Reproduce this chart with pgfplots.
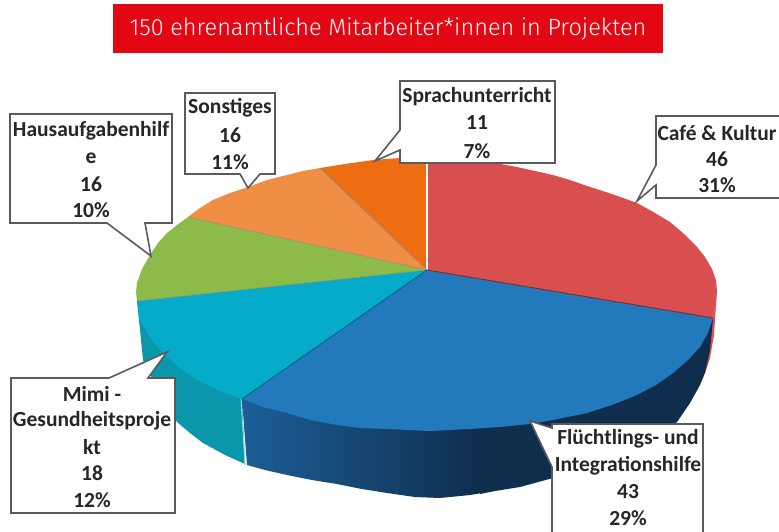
\documentclass[border=0pt]{standalone}
\usepackage{fontspec}
\usepackage{pgfplots}
\pgfplotsset{compat=1.18}
\setmainfont{Carlito}
\newfontfamily\titlefont{Fira Sans Light}
\definecolor{cRed}{HTML}{D94E4E}
\definecolor{cBlue}{HTML}{2279BC}
\definecolor{cTeal}{HTML}{05ABC8}
\definecolor{cTealS}{HTML}{0A96AB}
\definecolor{cGreen}{HTML}{8DBB4A}
\definecolor{cLO}{HTML}{F08E46}
\definecolor{cDO}{HTML}{EE6D12}
\definecolor{cTitle}{HTML}{E30613}
\definecolor{cBorder}{HTML}{5A5A5A}
\definecolor{cBS}{HTML}{1C5E96}
\definecolor{cBD}{HTML}{0F2E4D}
\newcommand{\lab}[3]{\node[font=\fontsize{21.5}{22}\selectfont\bfseries,text=black!85,anchor=center,inner sep=0pt] at (axis cs:#1,#2) {#3};}
\begin{document}
\begin{tikzpicture}
\clip (0,0) rectangle (779pt,531pt);
\begin{axis}[
  at={(0,0)}, anchor=south west,
  scale only axis, width=779pt, height=531pt,
  xmin=0, xmax=779, ymin=0, ymax=531, y dir=reverse,
  axis lines=none, clip=false]
% title band
\addplot[draw=none, fill=cTitle] coordinates {(113,4)(663,4)(663,53)(113,53)} -- cycle;
\node[font=\fontsize{23.5}{24}\titlefont, text=white, anchor=center, inner sep=0pt] at (axis cs:388,29) {150 ehrenamtliche Mitarbeiter*innen in Projekten};
% sides
\addplot[draw=none, fill=cRed] coordinates {(716,305)(714,335)(710,358)(705,373)(708,345)(713,318)} -- cycle;
\addplot[draw=none, fill=cTealS] coordinates {(137,301)(140,330)(143,360)(158,390)(177,422)(190,433)(203,443)(225,455)(245,464)(242,399)} -- cycle;
\addplot[draw=none, left color=cBS, right color=cBD] coordinates {(242,399)(247,465)(265,470)(287,475)(312,480)(337,484)(362,489)(387,493)(415,497)(440,498)(470,495)(482,493)(482,400)} -- cycle;
\addplot[draw=none, fill=cBD] coordinates {(480,400)(480,494)(495,491)(520,487)(553,478)(590,465)(620,453)(650,440)(677,422)(690,403)(700,385)(705,373)(710,350)(713,319)} -- cycle;
\addplot[color=cTeal!50!white, line width=1pt] coordinates {(241,399)(245,465)};
% top faces
\addplot[draw=none, fill=cDO] coordinates {(427,270)(320,168)(345,164)(373,160)(400,158)(427,158)} -- cycle;
\addplot[draw=none, fill=cLO] coordinates {(427,270)(188,217)(200,208)(213,200)(230,193)(248,187)(267,180)(287,175)(303,171)(320,168)} -- cycle;
\addplot[draw=none, fill=cGreen] coordinates {(427,270)(137,301)(136,292)(137,283)(142,269)(150,255)(158,243)(167,233)(177,225)(188,217)} -- cycle;
\addplot[draw=none, fill=cTeal] coordinates {(427,270)(137,301)(140,320)(150,338)(165,355)(180,368)(197,380)(218,390)(242,399)} -- cycle;
\addplot[draw=none, fill=cRed] coordinates {(427,270)(427,158)(450,159)(470,161)(495,163)(517,167)(535,171)(553,175)(570,180)(587,186)(612,194)(637,203)(655,213)(670,222)(684,234)(697,247)(705,257)(712,269)(716,280)(717,291)(716,305)(713,318)} -- cycle;
\addplot[draw=none, fill=cBlue] coordinates {(427,270)(713,318)(708,333)(700,347)(688,360)(673,373)(656,385)(637,395)(612,405)(587,413)(558,419)(530,424)(500,427)(470,429)(430,431)(387,429)(360,428)(337,425)(310,420)(287,413)(263,407)(242,399)} -- cycle;
% separators
\addplot[color=white, line width=1.8pt] coordinates {(427,158)(427,270)};
\addplot[color=gray!70!cLO, line width=0.8pt] coordinates {(427,270)(320,168)};
\addplot[color=gray!60!cLO, line width=0.6pt] coordinates {(427,270)(188,217)};
\addplot[color=gray!60!cGreen, line width=0.6pt] coordinates {(427,270)(137,301)};
\addplot[color=cTeal!60!black, line width=0.9pt] coordinates {(427,270)(242,399)};
\addplot[color=cRed!55!black, line width=0.9pt] coordinates {(427,270)(713,318)};
% callouts
\pgfplotsset{callout/.style={draw=cBorder, fill=white, line width=1.6pt, line join=miter}}
\addplot[callout] coordinates {(656,116)(790,116)(790,198)(656,198)(656,185)(637,201)(656,165)} -- cycle;
\addplot[callout] coordinates {(400,81)(555,81)(555,163)(400,163)(400,150)(375,161)(400,130)} -- cycle;
\addplot[callout] coordinates {(185,93)(275,93)(275,174)(260,174)(248,188)(240,174)(185,174)} -- cycle;
\addplot[callout] coordinates {(10,114)(172,114)(172,223)(145,223)(151,256)(107,223)(10,223)} -- cycle;
\addplot[callout] coordinates {(11,378)(109,378)(167,352)(148,378)(175,378)(175,513)(11,513)} -- cycle;
\addplot[callout] coordinates {(552,424)(703,424)(703,540)(552,540)(552,467)(530,421)(552,428)} -- cycle;
% texts
\lab{717}{133}{Café \& Kultur}
\lab{717}{159}{46}
\lab{717}{185}{31\%}
\lab{477}{97}{Sprachunterricht}
\lab{477}{123}{11}
\lab{477}{151}{7\%}
\lab{230}{108}{Sonstiges}
\lab{230}{135}{16}
\lab{230}{162}{11\%}
\lab{91}{131}{Hausaufgabenhilf}
\lab{91}{158}{e}
\lab{91}{184}{16}
\lab{91}{210}{10\%}
\lab{92}{394}{Mimi -}
\lab{92}{421}{Gesundheitsproje}
\lab{92}{447}{kt}
\lab{92}{473}{18}
\lab{92}{500}{12\%}
\lab{628}{439}{Flüchtlings- und}
\lab{628}{466}{Integrationshilfe}
\lab{628}{492}{43}
\lab{628}{518}{29\%}
\end{axis}
\end{tikzpicture}
\end{document}
